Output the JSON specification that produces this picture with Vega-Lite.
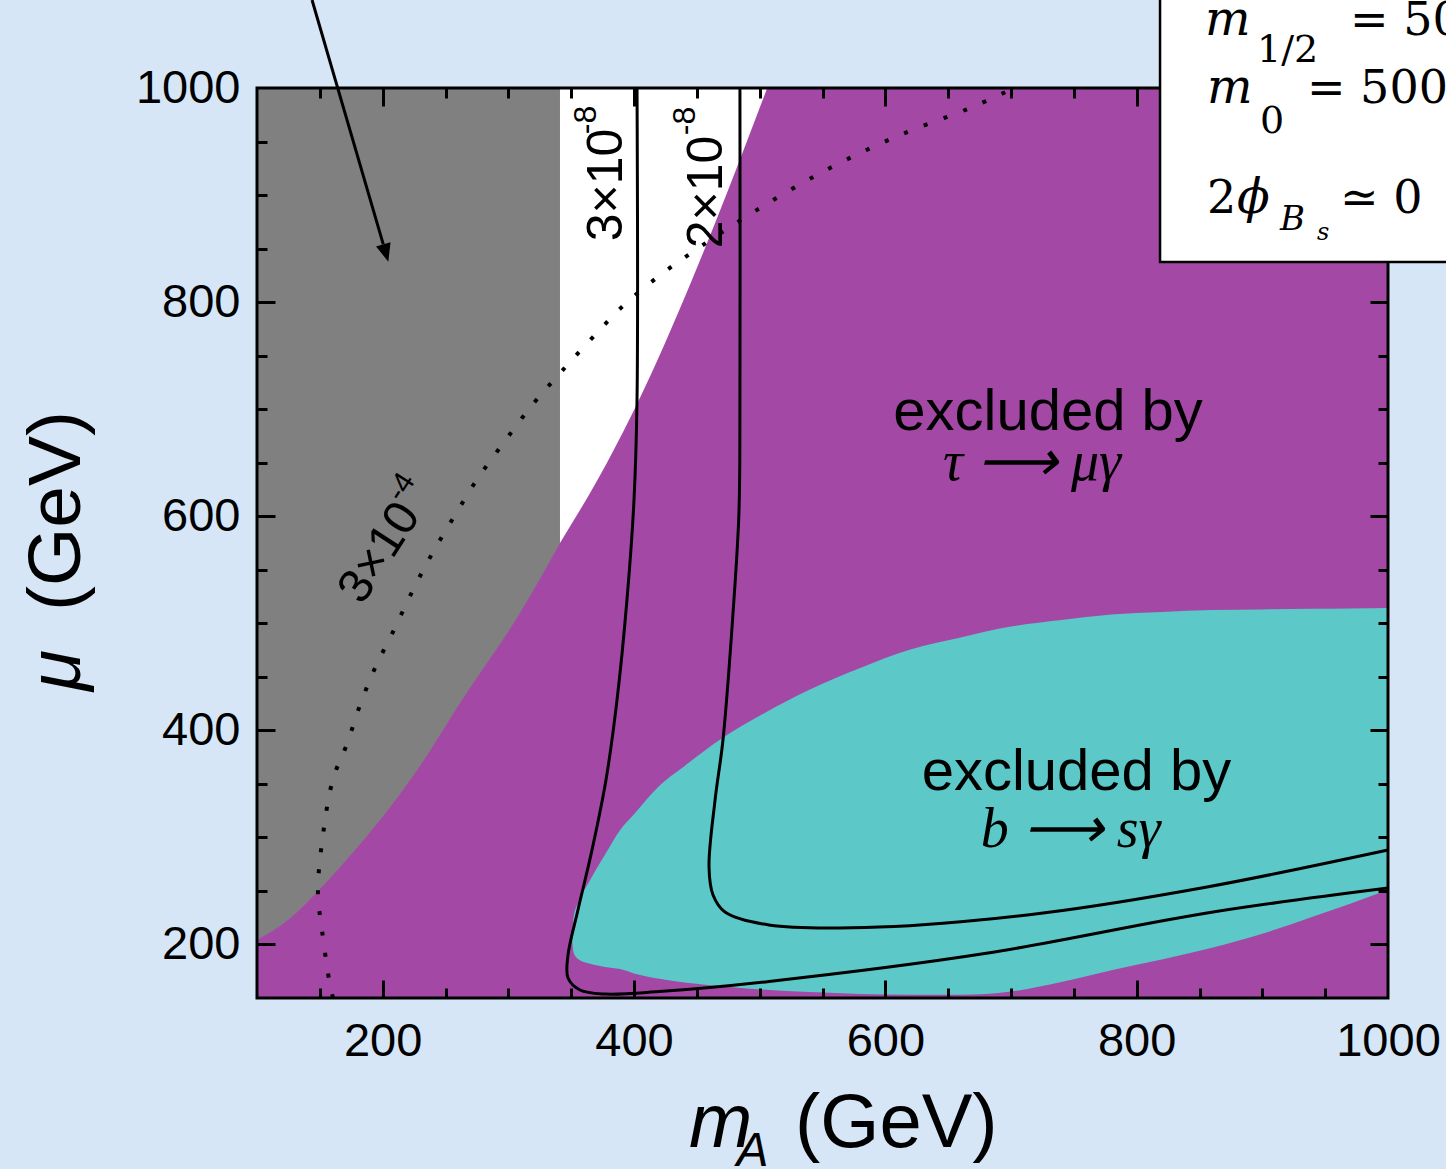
{
  "$schema": "https://vega.github.io/schema/vega-lite/v6.json",
  "width": 1131,
  "height": 910,
  "autosize": {"type": "none"},
  "padding": {"left": 257, "top": 88, "right": 58, "bottom": 171},
  "background": "#d6e6f7",
  "config": {"view": {"stroke": null}},
  "encoding": {
    "x": {"field": "x", "type": "quantitative", "scale": {"domain": [100, 1000], "nice": false, "zero": false}, "axis": null},
    "y": {"field": "y", "type": "quantitative", "scale": {"domain": [150, 1000], "nice": false, "zero": false}, "axis": null}
  },
  "resolve": {"axis": {"x": "independent", "y": "independent"}},
  "layer": [
    {
      "data": {"values": [{"x": 100, "x2": 1000, "y": 150, "y2": 1000}]},
      "mark": {"type": "rect", "color": "#a448a6"},
      "encoding": {
        "x": {"field": "x", "type": "quantitative", "scale": {"domain": [100, 1000], "nice": false, "zero": false},
          "axis": {"orient": "bottom", "values": [150,200,250,300,350,400,450,500,550,600,650,700,750,800,850,900,950], "labels": false, "domain": false, "grid": false, "tickColor": "black", "tickWidth": 3, "tickSize": {"condition": {"test": "datum.value % 200 === 0", "value": -18}, "value": -10}, "title": null, "zindex": 2}},
        "x2": {"field": "x2"},
        "y": {"field": "y", "type": "quantitative", "scale": {"domain": [150, 1000], "nice": false, "zero": false},
          "axis": {"orient": "left", "values": [200,250,300,350,400,450,500,550,600,650,700,750,800,850,900,950], "labels": false, "domain": false, "grid": false, "tickColor": "black", "tickWidth": 3, "tickSize": {"condition": {"test": "datum.value % 200 === 0", "value": -18}, "value": -10}, "title": null, "zindex": 2}},
        "y2": {"field": "y2"}
      }
    },
    {
      "data": {"values": [
        {"x": 100, "y": 204.2, "y2": 1000},
        {"x": 124.7, "y": 222.9, "y2": 1000},
        {"x": 151.7, "y": 253.7, "y2": 1000},
        {"x": 178, "y": 288.2, "y2": 1000},
        {"x": 204.2, "y": 325.6, "y2": 1000},
        {"x": 231.3, "y": 369.5, "y2": 1000},
        {"x": 263.1, "y": 428.3, "y2": 1000},
        {"x": 309.3, "y": 509.6, "y2": 1000},
        {"x": 341.1, "y": 575, "y2": 1000}
      ]},
      "mark": {"type": "area", "color": "#808080", "interpolate": "monotone"},
      "encoding": {
        "x": {"field": "x", "type": "quantitative", "scale": {"domain": [100, 1000], "nice": false, "zero": false},
          "axis": {"orient": "bottom", "values": [200, 400, 600, 800, 1000], "format": "d", "ticks": false, "domain": false, "grid": false, "labelFont": "Liberation Sans", "labelFontSize": 47, "labelColor": "black", "labelPadding": 20, "labelFlush": false, "labelOverlap": false, "title": null}},
        "y": {"field": "y", "type": "quantitative", "scale": {"domain": [150, 1000], "nice": false, "zero": false},
          "axis": {"orient": "left", "values": [200, 400, 600, 800, 1000], "format": "d", "ticks": false, "domain": false, "grid": false, "labelFont": "Liberation Sans", "labelFontSize": 47, "labelColor": "black", "labelPadding": 17, "labelFlush": false, "labelOverlap": false, "title": null}},
        "y2": {"field": "y2"}
      }
    },
    {
      "data": {"values": [
        {"x": 341.1, "y": 575, "y2": 1000},
        {"x": 378.5, "y": 650, "y2": 1000},
        {"x": 402.9, "y": 706, "y2": 1000},
        {"x": 446.1, "y": 820.7, "y2": 1000},
        {"x": 475, "y": 905, "y2": 1000},
        {"x": 506, "y": 1000, "y2": 1000}
      ]},
      "mark": {"type": "area", "color": "#ffffff", "interpolate": "monotone"},
      "encoding": {
        "x": {"field": "x", "type": "quantitative", "scale": {"domain": [100, 1000], "nice": false, "zero": false},
          "axis": {"orient": "top", "values": [150,200,250,300,350,400,450,500,550,600,650,700,750,800], "labels": false, "domain": false, "grid": false, "tickColor": "black", "tickWidth": 3, "tickSize": {"condition": {"test": "datum.value % 200 === 0", "value": -18}, "value": -10}, "title": null, "zindex": 2}},
        "y": {"field": "y", "type": "quantitative", "scale": {"domain": [150, 1000], "nice": false, "zero": false},
          "axis": {"orient": "right", "values": [200,250,300,350,400,450,500,550,600,650,700,750,800], "labels": false, "domain": false, "grid": false, "tickColor": "black", "tickWidth": 3, "tickSize": {"condition": {"test": "datum.value % 200 === 0", "value": -18}, "value": -10}, "title": null, "zindex": 2}},
        "y2": {"field": "y2"}
      }
    },
    {
      "data": {"values": [
        {"x": 350.7, "y": 204.2, "y2": 204.2},
        {"x": 352, "y": 192, "y2": 226},
        {"x": 356, "y": 186, "y2": 240},
        {"x": 365, "y": 182, "y2": 260},
        {"x": 377, "y": 179, "y2": 284},
        {"x": 389, "y": 177, "y2": 307},
        {"x": 400, "y": 173, "y2": 321.6},
        {"x": 420, "y": 168, "y2": 348},
        {"x": 440, "y": 164.5, "y2": 366.5},
        {"x": 470, "y": 161, "y2": 392.6},
        {"x": 500, "y": 158, "y2": 413.6},
        {"x": 540, "y": 155.5, "y2": 438.1},
        {"x": 580, "y": 153.8, "y2": 458.3},
        {"x": 620, "y": 153, "y2": 475.5},
        {"x": 660, "y": 153, "y2": 486.8},
        {"x": 700, "y": 156, "y2": 496.9},
        {"x": 740, "y": 165, "y2": 503},
        {"x": 780, "y": 176, "y2": 508.2},
        {"x": 820, "y": 186, "y2": 510.6},
        {"x": 860, "y": 197, "y2": 512.5},
        {"x": 900, "y": 210, "y2": 513},
        {"x": 940, "y": 226, "y2": 513.5},
        {"x": 970, "y": 238, "y2": 513.9},
        {"x": 1000, "y": 251, "y2": 514.3}
      ]},
      "mark": {"type": "area", "color": "#5cc8c8", "interpolate": "monotone"},
      "encoding": {"y2": {"field": "y2"}}
    },
    {
      "data": {"values": [
        {"i": 0, "x": 160.5, "y": 150},
        {"i": 1, "x": 158.1, "y": 162.2},
        {"i": 2, "x": 151.7, "y": 213.5},
        {"i": 3, "x": 148.5, "y": 249},
        {"i": 4, "x": 152.5, "y": 302.3},
        {"i": 5, "x": 160.5, "y": 354.6},
        {"i": 6, "x": 171.6, "y": 387.3},
        {"i": 7, "x": 182, "y": 423.7},
        {"i": 8, "x": 193.9, "y": 458.2},
        {"i": 9, "x": 208.2, "y": 491.9},
        {"i": 10, "x": 224.1, "y": 531.1},
        {"i": 11, "x": 240.1, "y": 566.6},
        {"i": 12, "x": 257.6, "y": 601.2},
        {"i": 13, "x": 275.9, "y": 635.7},
        {"i": 14, "x": 297.3, "y": 670.3},
        {"i": 15, "x": 319.6, "y": 704.8},
        {"i": 16, "x": 342.7, "y": 735.7},
        {"i": 17, "x": 367.4, "y": 767.4},
        {"i": 18, "x": 392.8, "y": 798.2},
        {"i": 19, "x": 423.1, "y": 827.2},
        {"i": 20, "x": 452.5, "y": 851.5},
        {"i": 21, "x": 500.3, "y": 887.9},
        {"i": 22, "x": 556, "y": 925.3},
        {"i": 23, "x": 611.7, "y": 956.1},
        {"i": 24, "x": 667.4, "y": 981.3},
        {"i": 25, "x": 699, "y": 998}
      ]},
      "mark": {"type": "line", "color": "black", "strokeWidth": 4, "strokeDash": [4, 17], "strokeCap": "butt", "interpolate": "catmull-rom"},
      "encoding": {"order": {"field": "i", "type": "quantitative"}}
    },
    {
      "data": {"values": [
        {"c": "a", "i": 0, "x": 402.4, "y": 1000},
        {"c": "a", "i": 1, "x": 402.4, "y": 708.6},
        {"c": "a", "i": 2, "x": 400, "y": 615.2},
        {"c": "a", "i": 3, "x": 394.4, "y": 521.8},
        {"c": "a", "i": 4, "x": 386.5, "y": 428.4},
        {"c": "a", "i": 5, "x": 377.7, "y": 353.6},
        {"c": "a", "i": 6, "x": 366.6, "y": 288.3},
        {"c": "a", "i": 7, "x": 355.4, "y": 232.2},
        {"c": "a", "i": 8, "x": 347.5, "y": 190.2},
        {"c": "a", "i": 9, "x": 347.5, "y": 168.7},
        {"c": "a", "i": 10, "x": 357, "y": 157.5},
        {"c": "a", "i": 11, "x": 376.9, "y": 153.7},
        {"c": "a", "i": 12, "x": 420, "y": 156},
        {"c": "a", "i": 13, "x": 507.4, "y": 165.5},
        {"c": "a", "i": 14, "x": 681.7, "y": 192},
        {"c": "a", "i": 15, "x": 856, "y": 229.4},
        {"c": "a", "i": 16, "x": 1000, "y": 252.7},
        {"c": "b", "i": 0, "x": 484.3, "y": 1000},
        {"c": "b", "i": 1, "x": 484.3, "y": 708.6},
        {"c": "b", "i": 2, "x": 483.5, "y": 603},
        {"c": "b", "i": 3, "x": 478.8, "y": 509.6},
        {"c": "b", "i": 4, "x": 470.8, "y": 391},
        {"c": "b", "i": 5, "x": 464.5, "y": 334.9},
        {"c": "b", "i": 6, "x": 459.7, "y": 272.4},
        {"c": "b", "i": 7, "x": 462.9, "y": 246.2},
        {"c": "b", "i": 8, "x": 472.4, "y": 230.3},
        {"c": "b", "i": 9, "x": 507.4, "y": 218.2},
        {"c": "b", "i": 10, "x": 595, "y": 216.3},
        {"c": "b", "i": 11, "x": 725.5, "y": 229.4},
        {"c": "b", "i": 12, "x": 856, "y": 253.7},
        {"c": "b", "i": 13, "x": 1000, "y": 288.2}
      ]},
      "mark": {"type": "line", "color": "black", "strokeWidth": 3, "interpolate": "catmull-rom"},
      "encoding": {"detail": {"field": "c"}, "order": {"field": "i", "type": "quantitative"}}
    },
    {
      "data": {"values": [{"x": 100, "x2": 1000, "y": 150, "y2": 1000}]},
      "mark": {"type": "rect", "filled": false, "stroke": "black", "strokeWidth": 3},
      "encoding": {"x2": {"field": "x2"}, "y2": {"field": "y2"}}
    },
    {
      "data": {"values": [
        {"x": 729.5, "y": 680.6, "t": "excluded by"},
        {"x": 752.1, "y": 344.3, "t": "excluded by"}
      ]},
      "mark": {"type": "text", "font": "Liberation Sans", "fontSize": 58, "align": "center", "baseline": "alphabetic", "color": "black"},
      "encoding": {"text": {"field": "t"}}
    },
    {
      "data": {"values": [
        {"x": 716.7, "y": 633.9, "t": "τ ⟶ μγ"},
        {"x": 747.4, "y": 291.3, "t": "b ⟶ sγ"}
      ]},
      "mark": {"type": "text", "font": "Liberation Serif", "fontStyle": "italic", "fontSize": 56, "align": "center", "baseline": "alphabetic", "color": "black"},
      "encoding": {"text": {"field": "t"}}
    },
    {
      "data": {"values": [
        {"x": 378.5, "y": 909.4, "t": "3×10"},
        {"x": 458.1, "y": 902.9, "t": "2×10"}
      ]},
      "mark": {"type": "text", "font": "Liberation Sans", "fontSize": 50, "angle": 270, "align": "center", "baseline": "middle", "color": "black"},
      "encoding": {"text": {"field": "t"}}
    },
    {
      "data": {"values": [
        {"x": 361.8, "y": 970.1, "t": "-8"},
        {"x": 440.6, "y": 969.2, "t": "-8"}
      ]},
      "mark": {"type": "text", "font": "Liberation Sans", "fontSize": 32, "angle": 270, "align": "center", "baseline": "middle", "color": "black"},
      "encoding": {"text": {"field": "t"}}
    },
    {
      "data": {"values": [{"x": 197.9, "y": 565.7, "t": "3×10"}]},
      "mark": {"type": "text", "font": "Liberation Sans", "fontSize": 48, "angle": 303, "align": "center", "baseline": "middle", "color": "black"},
      "encoding": {"text": {"field": "t"}}
    },
    {
      "data": {"values": [{"x": 214.6, "y": 627.3, "t": "-4"}]},
      "mark": {"type": "text", "font": "Liberation Sans", "fontSize": 30, "angle": 303, "align": "center", "baseline": "middle", "color": "black"},
      "encoding": {"text": {"field": "t"}}
    },
    {
      "data": {"values": [{"x": 143.8, "y": 1082.2, "x2": 200.5, "y2": 853.9}]},
      "mark": {"type": "rule", "color": "black", "strokeWidth": 3},
      "encoding": {"x2": {"field": "x2"}, "y2": {"field": "y2"}}
    },
    {
      "data": {"values": [{"x": 204.5, "y": 837.8}]},
      "mark": {"type": "point", "shape": "M0,0L-0.42,-1L0.42,-1Z", "size": 1296, "angle": 343.7, "filled": true, "color": "black", "opacity": 1, "strokeWidth": 0},
      "encoding": {}
    },
    {
      "data": {"values": [{"x": 818.6, "x2": 1100, "y": 837.5, "y2": 1100}]},
      "mark": {"type": "rect", "fill": "white", "stroke": "black", "strokeWidth": 2.5},
      "encoding": {"x2": {"field": "x2"}, "y2": {"field": "y2"}}
    },
    {
      "data": {"values": [
        {"x": 854.4, "y": 1049.5, "t": "m"},
        {"x": 855.9, "y": 986.0, "t": "m"},
        {"x": 879.8, "y": 883.2, "t": "ϕ"}
      ]},
      "mark": {"type": "text", "font": "DejaVu Serif", "fontStyle": "italic", "fontSize": 48, "align": "left", "baseline": "alphabetic", "color": "black"},
      "encoding": {"text": {"field": "t"}}
    },
    {
      "data": {"values": [
        {"x": 969.8, "y": 1049.5, "t": "= 500 GeV"},
        {"x": 935.5, "y": 986.0, "t": "= 500 GeV"},
        {"x": 855.9, "y": 883.2, "t": "2"},
        {"x": 961.8, "y": 883.2, "t": "≃ 0"}
      ]},
      "mark": {"type": "text", "font": "DejaVu Serif", "fontSize": 46, "align": "left", "baseline": "alphabetic", "color": "black"},
      "encoding": {"text": {"field": "t"}}
    },
    {
      "data": {"values": [
        {"x": 895.8, "y": 1024.3, "t": "1/2"},
        {"x": 898.1, "y": 958.0, "t": "0"}
      ]},
      "mark": {"type": "text", "font": "DejaVu Serif", "fontSize": 38, "align": "left", "baseline": "alphabetic", "color": "black"},
      "encoding": {"text": {"field": "t"}}
    },
    {
      "data": {"values": [{"x": 914.0, "y": 867.4, "t": "B"}]},
      "mark": {"type": "text", "font": "DejaVu Serif", "fontStyle": "italic", "fontSize": 34, "align": "left", "baseline": "alphabetic", "color": "black"},
      "encoding": {"text": {"field": "t"}}
    },
    {
      "data": {"values": [{"x": 943.5, "y": 858.0, "t": "s"}]},
      "mark": {"type": "text", "font": "DejaVu Serif", "fontStyle": "italic", "fontSize": 24, "align": "left", "baseline": "alphabetic", "color": "black"},
      "encoding": {"text": {"field": "t"}}
    },
    {
      "data": {"values": [{"x": 443.8, "y": 10.8, "t": "m"}]},
      "mark": {"type": "text", "font": "Liberation Sans", "fontStyle": "italic", "fontSize": 76, "align": "left", "baseline": "alphabetic", "color": "black"},
      "encoding": {"text": {"field": "t"}}
    },
    {
      "data": {"values": [{"x": 481.6, "y": -6.9, "t": "A"}]},
      "mark": {"type": "text", "font": "Liberation Sans", "fontStyle": "italic", "fontSize": 48, "align": "left", "baseline": "alphabetic", "color": "black"},
      "encoding": {"text": {"field": "t"}}
    },
    {
      "data": {"values": [{"x": 528.1, "y": 10.8, "t": "(GeV)"}]},
      "mark": {"type": "text", "font": "Liberation Sans", "fontSize": 76, "align": "left", "baseline": "alphabetic", "color": "black"},
      "encoding": {"text": {"field": "t"}}
    },
    {
      "data": {"values": [{"x": -40.8, "y": 436.8, "t": "μ"}]},
      "mark": {"type": "text", "font": "Liberation Sans", "fontStyle": "italic", "fontSize": 75, "angle": 270, "align": "left", "baseline": "alphabetic", "color": "black"},
      "encoding": {"text": {"field": "t"}}
    },
    {
      "data": {"values": [{"x": -40.8, "y": 511.5, "t": "(GeV)"}]},
      "mark": {"type": "text", "font": "Liberation Sans", "fontSize": 75, "angle": 270, "align": "left", "baseline": "alphabetic", "color": "black"},
      "encoding": {"text": {"field": "t"}}
    }
  ]
}
